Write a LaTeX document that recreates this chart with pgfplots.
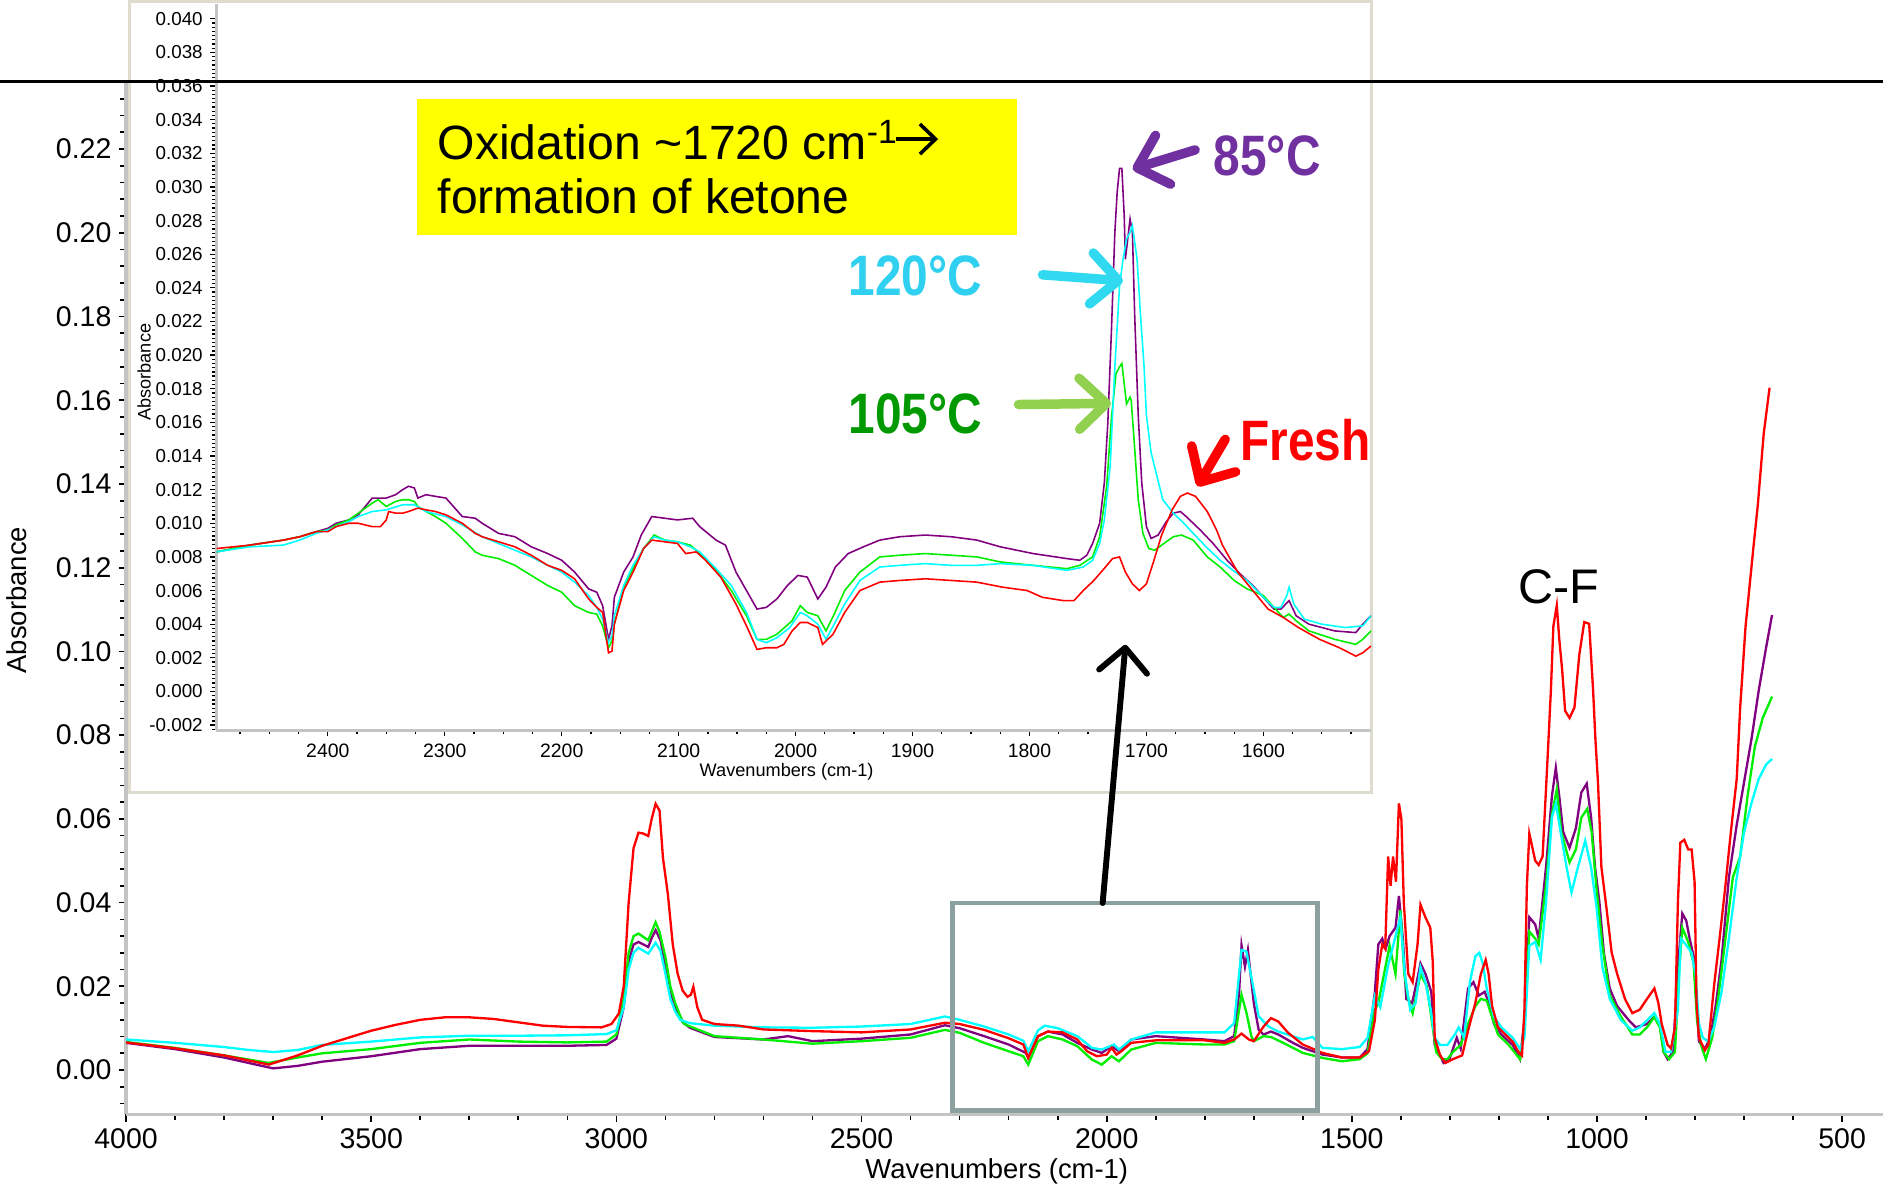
\documentclass[border=0pt]{standalone}
\usepackage{pgfplots}
\pgfplotsset{compat=1.18}
\usepackage{graphicx}
\usepackage{fontspec}
\setmainfont{Liberation Sans}
\usetikzlibrary{arrows.meta}

\definecolor{cPur}{HTML}{800080}
\definecolor{cCyan}{HTML}{00FFFF}
\definecolor{cGreen}{HTML}{00EE00}
\definecolor{cRed}{HTML}{FF0000}
\definecolor{lPur}{HTML}{7030A0}
\definecolor{lCyan}{HTML}{30D0F0}
\definecolor{lGreen}{HTML}{009A00}
\definecolor{aGreen}{HTML}{92D050}
\definecolor{aCyan}{HTML}{30D8F0}
\definecolor{boxgray}{HTML}{8CA0A0}
\definecolor{framec}{HTML}{DEDBCF}
\definecolor{axgray}{HTML}{C4C4C4}
\definecolor{hiyellow}{HTML}{FFFF00}

\begin{document}
\begin{tikzpicture}
\useasboundingbox (0,0) rectangle (31.36,19.8);

% ---------------- main axis ----------------
\begin{axis}[
  at={(2.10cm,1.24cm)}, anchor=south west, scale only axis,
  width=29.26cm, height=17.2cm,
  x dir=reverse, xmin=416.7, xmax=4000, ymin=-0.0106, ymax=0.2361,
  axis x line*=bottom, axis y line*=left,
  axis line style={axgray, line width=1.6pt},
  xtick distance=500, ytick distance=0.02,
  minor x tick num=4, minor y tick num=4,
  tick align=outside, major tick length=0.12cm, minor tick length=0.1cm,
  every tick/.style={black, line width=0.8pt},
  scaled x ticks=false, scaled y ticks=false,
  /pgf/number format/assume math mode=true,
  xticklabel style={/pgf/number format/1000 sep={}, font=\fontsize{13.5}{16}\selectfont},
  yticklabel style={/pgf/number format/fixed, /pgf/number format/fixed zerofill, /pgf/number format/precision=2, font=\fontsize{13.5}{16}\selectfont},
  xlabel={Wavenumbers (cm-1)}, ylabel={Absorbance},
  xlabel style={font=\fontsize{13}{15}\selectfont, at={(axis description cs:0.4956,-0.0547)}, anchor=center},
  ylabel style={font=\fontsize{13}{15}\selectfont, at={(axis description cs:-0.0622,0.498)}, anchor=center},
]
\addplot[cPur, line width=1.1pt] coordinates {(4000,0.0065) (3900,0.0050) (3800,0.0030) (3700,0.0004) (3650,0.0010) (3600,0.0020) (3500,0.0033) (3400,0.0050) (3300,0.0058) (3200,0.0058) (3100,0.0058) (3020,0.0060) (3000,0.0075) (2985,0.0150) (2975,0.0260) (2965,0.0300) (2955,0.0306) (2945,0.0300) (2935,0.0294) (2928,0.0315) (2920,0.0334) (2910,0.0310) (2900,0.0250) (2890,0.0190) (2880,0.0150) (2865,0.0115) (2850,0.0101) (2800,0.0079) (2700,0.0073) (2650,0.0081) (2600,0.0069) (2500,0.0075) (2400,0.0085) (2330,0.0107) (2300,0.0100) (2250,0.0081) (2200,0.0061) (2165,0.0041) (2160,0.0029) (2140,0.0081) (2120,0.0092) (2090,0.0085) (2060,0.0065) (2030,0.0049) (2010,0.0041) (1990,0.0057) (1975,0.0045) (1950,0.0073) (1900,0.0081) (1800,0.0073) (1760,0.0069) (1740,0.0081) (1730,0.0184) (1725,0.0298) (1718,0.0247) (1712,0.0287) (1700,0.0160) (1690,0.0096) (1680,0.0085) (1665,0.0092) (1650,0.0085) (1620,0.0065) (1600,0.0053) (1560,0.0037) (1520,0.0030) (1484,0.0030) (1468,0.0050) (1453,0.0187) (1446,0.0300) (1438,0.0314) (1431,0.0290) (1423,0.0320) (1411,0.0340) (1404,0.0416) (1396,0.0314) (1389,0.0170) (1377,0.0160) (1366,0.0220) (1360,0.0255) (1350,0.0230) (1338,0.0187) (1331,0.0060) (1320,0.0035) (1313,0.0017) (1301,0.0026) (1286,0.0077) (1278,0.0051) (1263,0.0195) (1252,0.0210) (1241,0.0178) (1229,0.0187) (1221,0.0161) (1210,0.0110) (1195,0.0085) (1172,0.0060) (1157,0.0026) (1148,0.0120) (1138,0.0365) (1126,0.0348) (1119,0.0314) (1104,0.0484) (1092,0.0654) (1084,0.0722) (1077,0.0654) (1069,0.0569) (1056,0.0531) (1043,0.0578) (1032,0.0663) (1021,0.0684) (1012,0.0603) (1004,0.0484) (995,0.0400) (986,0.0280) (974,0.0195) (959,0.0153) (935,0.0119) (921,0.0102) (898,0.0110) (883,0.0127) (872,0.0110) (864,0.0043) (856,0.0026) (845,0.0043) (835,0.0246) (826,0.0374) (818,0.0357) (811,0.0314) (803,0.0272) (792,0.0068) (780,0.0051) (769,0.0077) (758,0.0153) (746,0.0263) (731,0.0460) (715,0.0586) (700,0.0688) (685,0.0790) (670,0.0908) (655,0.1010) (643,0.1087)};
\addplot[cGreen, line width=1.1pt] coordinates {(4000,0.0067) (3900,0.0053) (3800,0.0035) (3709,0.0017) (3650,0.0030) (3600,0.0040) (3500,0.0050) (3400,0.0065) (3300,0.0073) (3200,0.0068) (3100,0.0066) (3020,0.0068) (3000,0.0085) (2985,0.0170) (2975,0.0280) (2965,0.0320) (2955,0.0326) (2945,0.0318) (2935,0.0310) (2928,0.0330) (2920,0.0353) (2912,0.0330) (2900,0.0270) (2890,0.0200) (2880,0.0160) (2865,0.0115) (2860,0.0109) (2800,0.0081) (2700,0.0073) (2600,0.0063) (2500,0.0069) (2400,0.0077) (2330,0.0096) (2300,0.0089) (2250,0.0065) (2200,0.0045) (2170,0.0033) (2160,0.0013) (2140,0.0069) (2120,0.0081) (2090,0.0073) (2060,0.0057) (2030,0.0025) (2010,0.0013) (1990,0.0033) (1975,0.0021) (1950,0.0049) (1900,0.0065) (1800,0.0061) (1760,0.0061) (1740,0.0069) (1725,0.0180) (1715,0.0137) (1705,0.0081) (1700,0.0069) (1680,0.0081) (1665,0.0079) (1640,0.0065) (1600,0.0041) (1560,0.0029) (1520,0.0021) (1484,0.0026) (1468,0.0040) (1453,0.0144) (1446,0.0160) (1423,0.0297) (1411,0.0230) (1401,0.0382) (1393,0.0230) (1385,0.0170) (1376,0.0136) (1360,0.0229) (1347,0.0200) (1335,0.0102) (1328,0.0043) (1316,0.0026) (1305,0.0026) (1294,0.0043) (1278,0.0060) (1263,0.0110) (1248,0.0153) (1237,0.0170) (1225,0.0166) (1214,0.0127) (1202,0.0085) (1180,0.0060) (1157,0.0026) (1148,0.0102) (1138,0.0331) (1126,0.0314) (1119,0.0300) (1104,0.0441) (1092,0.0611) (1082,0.0671) (1073,0.0569) (1056,0.0496) (1043,0.0527) (1032,0.0603) (1020,0.0624) (1011,0.0569) (1001,0.0433) (989,0.0297) (974,0.0178) (951,0.0127) (928,0.0085) (913,0.0085) (898,0.0102) (883,0.0127) (872,0.0102) (864,0.0043) (853,0.0026) (841,0.0043) (833,0.0229) (826,0.0340) (814,0.0306) (803,0.0255) (796,0.0119) (788,0.0060) (778,0.0026) (765,0.0077) (754,0.0161) (738,0.0314) (723,0.0460) (708,0.0510) (693,0.0654) (678,0.0773) (662,0.0841) (643,0.0892)};
\addplot[cCyan, line width=1.1pt] coordinates {(4000,0.0073) (3900,0.0065) (3800,0.0055) (3750,0.0048) (3700,0.0043) (3650,0.0048) (3600,0.0060) (3500,0.0068) (3400,0.0078) (3300,0.0082) (3200,0.0082) (3100,0.0083) (3020,0.0086) (3000,0.0095) (2985,0.0150) (2975,0.0240) (2965,0.0280) (2955,0.0292) (2945,0.0285) (2935,0.0278) (2928,0.0290) (2920,0.0304) (2910,0.0285) (2900,0.0230) (2890,0.0170) (2880,0.0140) (2870,0.0120) (2850,0.0112) (2800,0.0106) (2700,0.0102) (2600,0.0101) (2500,0.0104) (2400,0.0110) (2330,0.0128) (2300,0.0120) (2250,0.0104) (2200,0.0085) (2170,0.0070) (2160,0.0045) (2140,0.0095) (2126,0.0106) (2100,0.0100) (2060,0.0081) (2030,0.0053) (2010,0.0049) (1985,0.0061) (1975,0.0049) (1950,0.0073) (1900,0.0090) (1800,0.0090) (1760,0.0090) (1740,0.0112) (1725,0.0287) (1715,0.0283) (1700,0.0192) (1690,0.0128) (1670,0.0104) (1650,0.0092) (1600,0.0073) (1580,0.0079) (1560,0.0053) (1520,0.0050) (1484,0.0055) (1468,0.0077) (1453,0.0178) (1442,0.0150) (1426,0.0250) (1401,0.0365) (1392,0.0230) (1381,0.0144) (1370,0.0160) (1360,0.0246) (1350,0.0210) (1339,0.0144) (1331,0.0077) (1320,0.0060) (1305,0.0060) (1290,0.0085) (1282,0.0102) (1271,0.0077) (1259,0.0212) (1248,0.0272) (1240,0.0280) (1233,0.0255) (1225,0.0195) (1210,0.0127) (1195,0.0102) (1172,0.0077) (1157,0.0051) (1148,0.0077) (1138,0.0297) (1126,0.0306) (1115,0.0263) (1104,0.0400) (1092,0.0603) (1084,0.0637) (1073,0.0560) (1062,0.0484) (1052,0.0424) (1039,0.0484) (1024,0.0548) (1012,0.0484) (1001,0.0390) (989,0.0246) (974,0.0170) (951,0.0119) (928,0.0094) (913,0.0102) (898,0.0119) (883,0.0136) (872,0.0110) (860,0.0043) (849,0.0043) (835,0.0144) (829,0.0314) (819,0.0300) (807,0.0280) (799,0.0229) (792,0.0110) (784,0.0077) (773,0.0068) (761,0.0102) (746,0.0187) (731,0.0314) (715,0.0460) (700,0.0569) (685,0.0637) (670,0.0696) (655,0.0730) (643,0.0743)};
\addplot[cRed, line width=1.1pt] coordinates {(4000,0.0066) (3900,0.0052) (3800,0.0035) (3709,0.0013) (3650,0.0035) (3600,0.0058) (3550,0.0076) (3500,0.0094) (3450,0.0108) (3400,0.0120) (3350,0.0126) (3300,0.0126) (3250,0.0122) (3200,0.0114) (3150,0.0106) (3100,0.0103) (3030,0.0102) (3010,0.0110) (2995,0.0135) (2985,0.0200) (2975,0.0400) (2965,0.0530) (2955,0.0567) (2945,0.0565) (2935,0.0559) (2928,0.0600) (2920,0.0636) (2912,0.0620) (2905,0.0507) (2895,0.0420) (2885,0.0300) (2875,0.0230) (2865,0.0190) (2855,0.0175) (2848,0.0180) (2843,0.0199) (2835,0.0150) (2825,0.0120) (2800,0.0110) (2750,0.0106) (2700,0.0097) (2600,0.0093) (2500,0.0090) (2400,0.0097) (2330,0.0113) (2300,0.0110) (2250,0.0096) (2200,0.0076) (2170,0.0061) (2160,0.0029) (2140,0.0081) (2120,0.0092) (2090,0.0090) (2060,0.0073) (2040,0.0045) (2020,0.0033) (2000,0.0037) (1990,0.0053) (1980,0.0037) (1970,0.0045) (1950,0.0065) (1900,0.0071) (1800,0.0071) (1760,0.0065) (1740,0.0073) (1725,0.0087) (1710,0.0073) (1700,0.0069) (1680,0.0104) (1665,0.0124) (1650,0.0116) (1630,0.0089) (1600,0.0061) (1560,0.0041) (1520,0.0030) (1484,0.0030) (1465,0.0045) (1453,0.0120) (1446,0.0240) (1438,0.0300) (1432,0.0290) (1426,0.0510) (1421,0.0440) (1416,0.0510) (1410,0.0450) (1404,0.0637) (1399,0.0600) (1394,0.0400) (1385,0.0230) (1376,0.0210) (1366,0.0300) (1360,0.0395) (1350,0.0365) (1340,0.0340) (1335,0.0260) (1331,0.0077) (1320,0.0035) (1309,0.0017) (1294,0.0026) (1275,0.0035) (1263,0.0094) (1248,0.0161) (1237,0.0229) (1227,0.0263) (1221,0.0229) (1214,0.0153) (1202,0.0102) (1187,0.0085) (1172,0.0068) (1160,0.0043) (1153,0.0035) (1148,0.0144) (1143,0.0441) (1138,0.0565) (1126,0.0500) (1119,0.0490) (1111,0.0510) (1100,0.0764) (1094,0.0908) (1089,0.1060) (1082,0.1110) (1077,0.1030) (1071,0.0955) (1065,0.0858) (1056,0.0841) (1046,0.0866) (1036,0.0993) (1026,0.1070) (1016,0.1066) (1008,0.0908) (1003,0.0785) (998,0.0688) (991,0.0484) (982,0.0400) (970,0.0280) (959,0.0230) (943,0.0170) (928,0.0136) (913,0.0144) (898,0.0170) (883,0.0195) (875,0.0161) (868,0.0110) (856,0.0060) (849,0.0052) (841,0.0102) (835,0.0400) (830,0.0543) (822,0.0550) (814,0.0527) (807,0.0527) (801,0.0450) (797,0.0161) (792,0.0077) (780,0.0047) (773,0.0060) (761,0.0204) (750,0.0314) (738,0.0441) (727,0.0569) (715,0.0696) (708,0.0866) (697,0.1060) (681,0.1248) (672,0.1350) (660,0.1520) (648,0.1630)};
\end{axis}

% ---------------- inset frame ----------------
\begin{scope}[x=0.02cm,y=0.02cm]
  \filldraw[fill=white, draw=framec, line width=1.6pt] (108,330) rectangle (1142,989);
\end{scope}

% ---------------- inset axis ----------------
\begin{axis}[
  at={(3.60cm,7.64cm)}, anchor=south west, scale only axis,
  width=19.24cm, height=12.1cm,
  x dir=reverse, xmin=1507.6, xmax=2495.5, ymin=-0.0023, ymax=0.0409,
  axis x line*=bottom, axis y line*=left,
  axis line style={axgray, line width=1.3pt},
  xtick distance=100, ytick distance=0.002,
  minor x tick num=3, minor y tick num=7,
  tick align=outside, major tick length=0.1cm, minor tick length=0.07cm,
  every tick/.style={black, line width=0.6pt},
  scaled x ticks=false, scaled y ticks=false,
  /pgf/number format/assume math mode=true,
  xticklabel style={/pgf/number format/1000 sep={}, font=\fontsize{9.2}{11}\selectfont},
  yticklabel style={/pgf/number format/fixed, /pgf/number format/fixed zerofill, /pgf/number format/precision=3, font=\fontsize{8.9}{11}\selectfont},
  xlabel={Wavenumbers (cm-1)}, ylabel={Absorbance},
  xlabel style={font=\fontsize{8.6}{10}\selectfont, at={(axis description cs:0.4938,-0.0579)}, anchor=center},
  ylabel style={font=\fontsize{8.6}{10}\selectfont, at={(axis description cs:-0.0624,0.4926)}, anchor=center},
]
\addplot[cPur, line width=0.75pt] coordinates {(2495,0.0083) (2467,0.0087) (2438,0.0090) (2424,0.0092) (2410,0.0095) (2400,0.0097) (2393,0.0100) (2382,0.0102) (2374,0.0105) (2362,0.0115) (2350,0.0115) (2342,0.0117) (2336,0.0120) (2331,0.0122) (2326,0.0121) (2323,0.0115) (2316,0.0117) (2308,0.0116) (2299,0.0115) (2285,0.0104) (2274,0.0103) (2268,0.0100) (2254,0.0094) (2240,0.0092) (2226,0.0086) (2212,0.0082) (2200,0.0078) (2189,0.0071) (2177,0.0061) (2170,0.0059) (2165,0.0051) (2160,0.0031) (2157,0.0039) (2155,0.0056) (2147,0.0071) (2139,0.0080) (2132,0.0093) (2123,0.0104) (2112,0.0103) (2101,0.0102) (2088,0.0103) (2082,0.0098) (2068,0.0090) (2060,0.0087) (2051,0.0071) (2042,0.0060) (2033,0.0049) (2025,0.0050) (2016,0.0055) (2007,0.0063) (1998,0.0069) (1990,0.0068) (1981,0.0055) (1974,0.0062) (1966,0.0074) (1955,0.0082) (1942,0.0086) (1928,0.0090) (1911,0.0092) (1889,0.0093) (1867,0.0092) (1845,0.0090) (1825,0.0086) (1797,0.0082) (1768,0.0079) (1757,0.0078) (1751,0.0081) (1746,0.0088) (1740,0.0100) (1736,0.0124) (1733,0.0160) (1730,0.0213) (1727,0.0273) (1725,0.0297) (1723,0.0311) (1721,0.0311) (1719,0.0283) (1718,0.0257) (1716,0.0269) (1714,0.0281) (1712,0.0273) (1710,0.0223) (1707,0.0164) (1704,0.0124) (1700,0.0098) (1696,0.0091) (1690,0.0093) (1683,0.0101) (1677,0.0106) (1671,0.0107) (1666,0.0104) (1654,0.0096) (1643,0.0088) (1631,0.0078) (1620,0.0070) (1609,0.0063) (1600,0.0056) (1591,0.0049) (1585,0.0049) (1578,0.0054) (1572,0.0045) (1561,0.0040) (1539,0.0036) (1521,0.0035) (1515,0.0040) (1508,0.0045)};
\addplot[cGreen, line width=0.75pt] coordinates {(2495,0.0083) (2467,0.0087) (2438,0.0090) (2424,0.0092) (2410,0.0095) (2400,0.0096) (2393,0.0099) (2382,0.0102) (2374,0.0106) (2362,0.0112) (2357,0.0114) (2350,0.0110) (2342,0.0113) (2336,0.0114) (2331,0.0114) (2326,0.0113) (2323,0.0110) (2316,0.0107) (2308,0.0104) (2299,0.0100) (2285,0.0091) (2274,0.0083) (2268,0.0081) (2254,0.0079) (2240,0.0075) (2226,0.0069) (2212,0.0063) (2200,0.0059) (2189,0.0051) (2177,0.0047) (2170,0.0046) (2165,0.0039) (2160,0.0026) (2157,0.0030) (2155,0.0040) (2147,0.0062) (2139,0.0073) (2130,0.0085) (2121,0.0093) (2112,0.0090) (2101,0.0089) (2090,0.0087) (2082,0.0082) (2068,0.0072) (2055,0.0060) (2042,0.0045) (2033,0.0031) (2025,0.0031) (2016,0.0034) (2003,0.0042) (1996,0.0051) (1990,0.0047) (1981,0.0045) (1974,0.0036) (1967,0.0046) (1958,0.0060) (1945,0.0071) (1928,0.0080) (1911,0.0081) (1889,0.0082) (1867,0.0081) (1845,0.0080) (1825,0.0077) (1797,0.0075) (1768,0.0073) (1757,0.0075) (1746,0.0080) (1740,0.0092) (1734,0.0122) (1730,0.0162) (1726,0.0189) (1723,0.0193) (1721,0.0195) (1719,0.0183) (1717,0.0171) (1714,0.0175) (1713,0.0173) (1710,0.0144) (1707,0.0114) (1703,0.0094) (1698,0.0085) (1693,0.0084) (1685,0.0088) (1677,0.0092) (1670,0.0093) (1660,0.0090) (1648,0.0080) (1637,0.0074) (1625,0.0066) (1614,0.0061) (1600,0.0057) (1587,0.0047) (1583,0.0044) (1578,0.0046) (1572,0.0042) (1561,0.0036) (1539,0.0031) (1521,0.0028) (1515,0.0031) (1508,0.0036)};
\addplot[cCyan, line width=0.75pt] coordinates {(2495,0.0083) (2467,0.0086) (2438,0.0087) (2424,0.0090) (2410,0.0094) (2400,0.0096) (2393,0.0098) (2382,0.0101) (2374,0.0104) (2362,0.0107) (2350,0.0108) (2336,0.0111) (2326,0.0111) (2316,0.0107) (2299,0.0104) (2285,0.0099) (2268,0.0092) (2254,0.0088) (2240,0.0084) (2226,0.0080) (2212,0.0075) (2200,0.0071) (2189,0.0065) (2177,0.0057) (2170,0.0050) (2165,0.0043) (2160,0.0029) (2157,0.0033) (2155,0.0045) (2147,0.0063) (2139,0.0075) (2130,0.0085) (2121,0.0092) (2112,0.0090) (2101,0.0089) (2090,0.0086) (2082,0.0083) (2068,0.0073) (2055,0.0063) (2042,0.0047) (2033,0.0031) (2025,0.0029) (2016,0.0032) (2005,0.0038) (1996,0.0047) (1990,0.0045) (1981,0.0040) (1974,0.0031) (1967,0.0040) (1958,0.0052) (1945,0.0066) (1928,0.0074) (1911,0.0075) (1889,0.0076) (1867,0.0075) (1845,0.0075) (1825,0.0076) (1797,0.0075) (1768,0.0072) (1754,0.0074) (1746,0.0078) (1740,0.0088) (1736,0.0102) (1731,0.0134) (1727,0.0193) (1723,0.0241) (1720,0.0257) (1717,0.0269) (1714,0.0273) (1712,0.0277) (1708,0.0257) (1705,0.0223) (1702,0.0193) (1700,0.0164) (1696,0.0142) (1691,0.0128) (1686,0.0114) (1677,0.0106) (1668,0.0100) (1660,0.0094) (1649,0.0086) (1637,0.0078) (1626,0.0072) (1614,0.0066) (1600,0.0056) (1591,0.0050) (1585,0.0050) (1580,0.0057) (1578,0.0062) (1574,0.0052) (1565,0.0043) (1550,0.0040) (1530,0.0038) (1515,0.0039) (1508,0.0045)};
\addplot[cRed, line width=0.75pt] coordinates {(2495,0.0085) (2467,0.0087) (2438,0.0090) (2424,0.0092) (2410,0.0095) (2400,0.0095) (2393,0.0098) (2382,0.0100) (2374,0.0100) (2362,0.0098) (2355,0.0098) (2350,0.0102) (2348,0.0107) (2342,0.0106) (2336,0.0106) (2331,0.0107) (2323,0.0109) (2316,0.0108) (2308,0.0107) (2299,0.0105) (2285,0.0100) (2274,0.0094) (2268,0.0092) (2254,0.0089) (2240,0.0086) (2226,0.0081) (2212,0.0075) (2200,0.0072) (2189,0.0067) (2177,0.0055) (2170,0.0050) (2165,0.0047) (2160,0.0023) (2157,0.0024) (2155,0.0040) (2147,0.0060) (2139,0.0071) (2130,0.0085) (2123,0.0090) (2112,0.0089) (2101,0.0088) (2094,0.0082) (2085,0.0083) (2077,0.0078) (2064,0.0068) (2051,0.0052) (2042,0.0039) (2033,0.0025) (2025,0.0026) (2016,0.0026) (2010,0.0028) (2003,0.0036) (1996,0.0041) (1990,0.0041) (1981,0.0038) (1977,0.0028) (1968,0.0034) (1958,0.0047) (1945,0.0060) (1928,0.0065) (1911,0.0066) (1889,0.0067) (1867,0.0066) (1845,0.0065) (1823,0.0062) (1802,0.0060) (1789,0.0056) (1771,0.0054) (1762,0.0054) (1754,0.0060) (1745,0.0066) (1735,0.0074) (1729,0.0079) (1723,0.0080) (1718,0.0071) (1712,0.0064) (1706,0.0060) (1700,0.0064) (1694,0.0077) (1687,0.0093) (1678,0.0108) (1671,0.0116) (1665,0.0118) (1658,0.0116) (1648,0.0107) (1640,0.0096) (1635,0.0087) (1622,0.0071) (1609,0.0060) (1596,0.0049) (1583,0.0044) (1570,0.0038) (1552,0.0031) (1535,0.0026) (1521,0.0021) (1515,0.0023) (1508,0.0027)};
\end{axis}

% ---------------- annotations ----------------
\begin{scope}[x=0.02cm,y=0.02cm]
  \draw[black, line width=1.6pt] (0,922) -- (1568,922);
  \fill[hiyellow] (347,794) rectangle (847,907);
  \node[anchor=base west, inner sep=0, font=\fontsize{22.8}{26}\selectfont] at (364,857) {Oxidation \textasciitilde1720 cm\textsuperscript{-1}};
  \draw[black, line width=1.7pt, -{Straight Barb[length=0.26cm,width=0.5cm]}] (746,874) -- (781,874);
  \node[anchor=base west, inner sep=0, font=\fontsize{22.8}{26}\selectfont] at (364,812) {formation of ketone};
  \node[text=lPur, font=\fontsize{27}{30}\selectfont\bfseries] at (1055,860) {\scalebox{0.84}[1]{85°C}};
  \node[text=lCyan, font=\fontsize{27}{30}\selectfont\bfseries] at (762,760) {\scalebox{0.84}[1]{120°C}};
  \node[text=lGreen, font=\fontsize{27}{30}\selectfont\bfseries] at (762,645) {\scalebox{0.84}[1]{105°C}};
  \node[text=cRed, font=\fontsize{27}{30}\selectfont\bfseries] at (1087,623) {\scalebox{0.84}[1]{Fresh}};
  \node[font=\fontsize{23}{26}\selectfont] at (1298,501) {C-F};
  \draw[lPur, line width=4.5pt, line cap=round, -{Straight Barb[length=0.45cm,width=0.85cm,line cap=round,round]}] (995,865) -- (943,849);
  \draw[aCyan, line width=4.5pt, line cap=round, -{Straight Barb[length=0.45cm,width=0.85cm,line cap=round,round]}] (868,761) -- (935,756);
  \draw[aGreen, line width=4.5pt, line cap=round, -{Straight Barb[length=0.45cm,width=0.85cm,line cap=round,round]}] (848,653) -- (925,654);
  \draw[cRed, line width=4.5pt, line cap=round, -{Straight Barb[length=0.45cm,width=0.85cm,line cap=round,round]}] (1020,624) -- (997,585);
  \draw[boxgray, line width=2.3pt] (793,65) rectangle (1097,238);
  \draw[black, line width=2.8pt, line cap=round, -{Straight Barb[length=0.4cm,width=0.8cm,line cap=round,round]}] (918,238) -- (937,453);
\end{scope}
\end{tikzpicture}
\end{document}
